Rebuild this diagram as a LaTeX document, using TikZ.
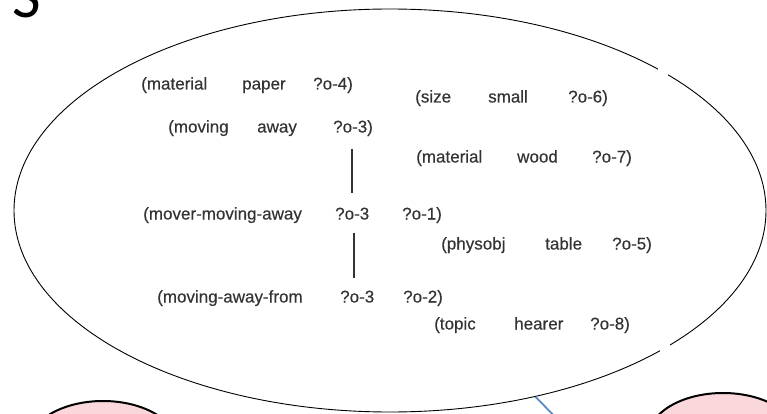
\documentclass[tikz,border=0pt]{standalone}
\usepackage{fontspec}
\setmainfont{Liberation Sans}
\newfontfamily\labfont[FakeBold=0.3]{Liberation Sans}
\newfontfamily\bigfont{Carlito}
\usetikzlibrary{shapes.geometric}
\definecolor{txtgray}{HTML}{333333}
\definecolor{pinkfill}{RGB}{250,215,218}
\definecolor{lineblue}{HTML}{5B8BC5}
\begin{document}
\begin{tikzpicture}[x=1pt,y=-1pt,
  word/.style={anchor=base west,inner sep=0pt,text=txtgray,font=\labfont\fontsize{17}{17}\selectfont},
  vline/.style={draw=txtgray,line width=1.7pt},
  bubble/.style={draw=black,line width=0.9pt,ellipse,inner sep=0pt,minimum width=752pt,minimum height=403pt},
  blob/.style={draw=black,line width=2pt,fill=pinkfill,ellipse,inner sep=0pt,minimum width=150pt,minimum height=90pt}]
\useasboundingbox (0,0) rectangle (767,414);
\clip (0,0) rectangle (767,414);
\fill[white] (0,0) rectangle (767,414);
% big letter
\node[anchor=base west,inner sep=0pt,font=\bigfont\fontsize{62}{62}\selectfont] (S) at (12,18) {S};
% main bubble
\node[bubble] (ell) at (390,210.5) {};
\fill[white] (658,62) rectangle (668,76);
\fill[white] (660,342) rectangle (670,356);
% pink blobs
\node[blob] (pl) at (103,446) {};
\node[blob] (pr) at (723,438) {};
% blue connector
\coordinate (bend) at (562,424);
\draw[lineblue,line width=1.8pt] (ell.-52) -- (bend);
% rows
\node[word] (a1) at (141,89.5) {(material};
\node[word] (a2) at (242,89.5) {paper};
\node[word] (a3) at (313,89.5) {?o-4)};
\node[word] (b1) at (415,102.5) {(size};
\node[word] (b2) at (488,102.5) {small};
\node[word] (b3) at (568,102.5) {?o-6)};
\node[word] (c1) at (168,132.5) {(moving};
\node[word] (c2) at (257,132.5) {away};
\node[word] (c3) at (333,132.5) {?o-3)};
\node[word] (d1) at (416,162.5) {(material};
\node[word] (d2) at (517,162.5) {wood};
\node[word] (d3) at (592,162.5) {?o-7)};
\node[word] (e1) at (143,219.5) {(mover-moving-away};
\node[word] (e2) at (335,219.5) {?o-3};
\node[word] (e3) at (402,219.5) {?o-1)};
\node[word] (f1) at (441,249.5) {(physobj};
\node[word] (f2) at (545,249.5) {table};
\node[word] (f3) at (612,249.5) {?o-5)};
\node[word] (g1) at (157,302.5) {(moving-away-from};
\node[word] (g2) at (340,302.5) {?o-3};
\node[word] (g3) at (403,302.5) {?o-2)};
\node[word] (h1) at (434,329.5) {(topic};
\node[word] (h2) at (514,329.5) {hearer};
\node[word] (h3) at (590,329.5) {?o-8)};
% connecting bars
\draw[vline] (e2.center |- 0,149) coordinate (v1a) -- (e2.center |- 0,193) coordinate (v1b);
\draw[vline] ([xshift=2pt]e2.center |- 0,233) coordinate (v2a) -- ([xshift=2pt]e2.center |- 0,278) coordinate (v2b);
\end{tikzpicture}
\end{document}
